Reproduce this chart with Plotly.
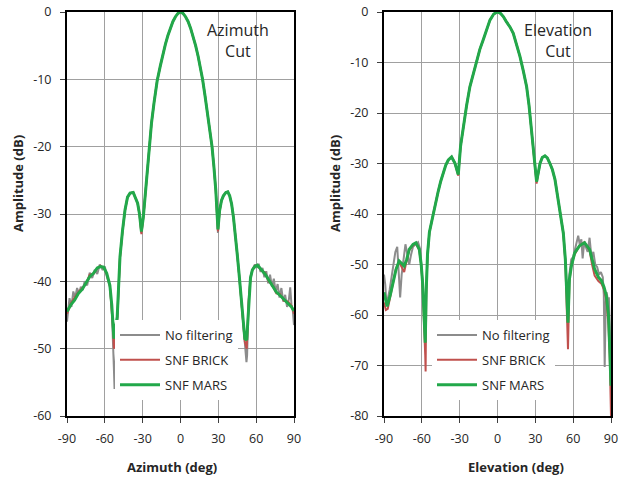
import plotly.graph_objects as go

# ---------------- Azimuth cut data ----------------
az_green_x = [-90, -87, -84, -81, -78, -75, -72, -69, -66, -63.5, -61, -58.5, -56, -54.5, -53.5, -52.8,
              -50.2, -49, -48, -46, -44, -42, -40, -37.5, -35.5, -34, -32.5, -31, -29.5, -28, -26.5, -25,
              -23, -21, -18.5, -16, -14, -12, -10, -8, -6, -4, -2, 0,
              2, 4, 6, 8, 10, 12, 14, 16, 17.5, 19.5, 21.5, 23.5, 25, 26.5, 28, 29.7,
              31, 32.5, 34, 36, 37.5, 39, 40.5, 42, 43.5, 45, 46.5, 48, 49.5, 51, 52.5,
              54, 55.5, 57, 59, 61, 64, 67, 70, 73, 76, 79, 82, 85, 88, 90]
az_green_y = [-44.5, -43.5, -42.8, -41.8, -41.2, -40.3, -39.3, -38.8, -38.0, -37.8, -37.9, -38.8, -40.6, -43.5, -46.5, -48.5,
              -45.3, -40.5, -36.4, -32.5, -29.4, -27.5, -26.9, -26.8, -27.6, -28.4, -30.0, -32.6, -30.5, -27.0, -23.5, -20.0,
              -16.5, -13.5, -10.2, -8.0, -6.3, -4.8, -3.5, -2.4, -1.4, -0.7, -0.2, 0.0,
              -0.2, -0.7, -1.4, -2.4, -3.6, -5.0, -6.6, -8.4, -10.0, -12.5, -15.0, -17.5, -20.0, -23.0, -26.5, -32.3,
              -29.5, -28.0, -27.3, -26.8, -26.7, -27.3, -28.5, -30.5, -33.0, -36.0, -39.0, -42.5, -46.0, -48.5, -48.7,
              -43.0, -39.5, -38.3, -37.8, -37.6, -38.2, -38.9, -39.8, -40.8, -41.6, -42.1, -42.7, -43.2, -43.8, -44.4]

az_red_x = [-90, -87, -84, -81, -78, -75, -72, -69, -66, -63.5, -61, -58.5, -56, -54.5, -53.5, -52.8,
            -50.2, -49, -48, -46, -44, -42, -40, -37.5, -35.5, -34, -32.5, -31, -29.5, -28, -26.5, -25,
            -23, -21, -18.5, -16, -14, -12, -10, -8, -6, -4, -2, 0,
            2, 4, 6, 8, 10, 12, 14, 16, 17.5, 19.5, 21.5, 23.5, 25, 26.5, 28, 29.7,
            31, 32.5, 34, 36, 37.5, 39, 40.5, 42, 43.5, 45, 46.5, 48, 49.5, 51, 52.5,
            54, 55.5, 57, 59, 61, 64, 67, 70, 73, 76, 79, 82, 85, 88, 90]
az_red_y = [-44.8, -43.3, -42.4, -41.6, -41.0, -40.4, -39.0, -38.9, -38.1, -37.7, -38.0, -38.9, -40.7, -43.8, -47.0, -50.0,
            -45.5, -40.6, -36.5, -32.6, -29.5, -27.5, -26.9, -26.8, -27.6, -28.4, -30.1, -33.0, -30.6, -27.1, -23.6, -20.1,
            -16.5, -13.5, -10.2, -8.0, -6.3, -4.8, -3.5, -2.4, -1.4, -0.7, -0.2, 0.0,
            -0.2, -0.7, -1.4, -2.4, -3.6, -5.0, -6.6, -8.4, -10.0, -12.5, -15.0, -17.5, -20.0, -23.0, -26.6, -32.6,
            -29.6, -28.0, -27.3, -26.8, -26.7, -27.3, -28.5, -30.5, -33.0, -36.0, -39.1, -42.6, -46.2, -49.0, -50.0,
            -43.2, -39.6, -38.3, -37.7, -37.6, -38.4, -38.7, -40.0, -40.6, -41.8, -41.9, -42.9, -43.0, -43.6, -44.8]

az_gray_x = [-90, -89, -88, -86.5, -85, -83.5, -82, -80.5, -79, -77.5, -76, -74, -72, -70, -68, -66, -64, -62,
             -60, -58.5, -56, -54.5, -53.5, -52.8, -52.3,
             -50.2, -49, -48, -46, -44, -42, -40, -37.5, -35.5, -34, -32.5, -31, -29.5, -28, -26.5, -25,
             -23, -21, -18.5, -16, -14, -12, -10, -8, -6, -4, -2, 0,
             2, 4, 6, 8, 10, 12, 14, 16, 17.5, 19.5, 21.5, 23.5, 25, 26.5, 28, 29.7,
             31, 32.5, 34, 36, 37.5, 39, 40.5, 42, 43.5, 45, 46.5, 48, 49.5, 51, 52.3, 52.8, 53.3,
             54, 55.5, 57, 59, 60.5, 62, 63.5, 65, 66.5, 68, 69.5, 71, 72.5, 74, 75.5, 77, 78.5, 80,
             81.5, 83, 84.5, 86, 87, 88, 89, 90]
az_gray_y = [-46.0, -44.0, -42.5, -43.8, -41.5, -42.4, -41.0, -41.8, -40.8, -41.3, -40.0, -40.6, -38.7, -39.5, -38.3, -38.9, -37.5, -38.2,
             -37.8, -39.2, -40.8, -44.0, -48.0, -53.0, -56.0,
             -45.4, -40.6, -36.5, -32.5, -29.4, -27.5, -26.9, -26.8, -27.6, -28.4, -30.0, -32.8, -30.5, -27.0, -23.5, -20.0,
             -16.5, -13.5, -10.2, -8.0, -6.3, -4.8, -3.5, -2.4, -1.4, -0.7, -0.2, 0.0,
             -0.2, -0.7, -1.4, -2.4, -3.6, -5.0, -6.6, -8.4, -10.0, -12.5, -15.0, -17.5, -20.0, -23.0, -26.6, -32.8,
             -29.5, -28.0, -27.3, -26.8, -26.7, -27.3, -28.5, -30.5, -33.0, -36.0, -39.0, -42.5, -46.2, -49.5, -52.0, -51.0, -47.5,
             -42.8, -39.3, -38.3, -37.5, -38.0, -37.4, -38.6, -38.0, -39.4, -38.5, -40.3, -39.0, -40.8, -39.6, -41.6, -40.4, -42.4, -41.0,
             -43.0, -42.0, -43.8, -42.6, -40.9, -43.5, -44.2, -46.5]

# ---------------- Elevation cut data ----------------
el_green_x = [-90, -87.5, -85, -83, -80.5, -78, -76, -74, -72, -70, -67, -64.7, -62, -60.5, -59.4, -58.3, -57.3,
              -56.5, -55.5, -54, -51, -49, -47, -45, -43, -41, -39, -36.4, -33.8, -31.1,
              -29.3, -27.1, -24.5, -21.9, -19, -16.6, -14, -11.3, -8.5, -6, -3, 0,
              2.5, 4.6, 7, 10, 12.5, 15, 17.8, 20.5, 23.1, 25, 27.1, 29, 31,
              33.7, 35.5, 37.6, 39.5, 41.6, 43.5, 45.6, 47.5, 49.5, 51, 52.2, 53.8, 55.4, 55.9,
              57, 58.6, 61.2, 65, 69, 73, 77, 80, 82.4, 84.5, 86.3, 88, 89, 90]
el_green_y = [-55.5, -58.3, -56.0, -53.6, -51.0, -49.3, -49.8, -50.3, -49.0, -47.0, -46.0, -45.7, -47.0, -50.0, -53.6, -59.0, -65.5,
              -55.0, -48.0, -43.6, -40.0, -37.5, -35.5, -33.5, -31.9, -30.3, -29.3, -28.7, -29.9, -32.2,
              -26.6, -22.6, -18.5, -14.8, -12.0, -9.5, -7.4, -5.5, -3.5, -1.6, -0.4, 0.0,
              -0.3, -0.9, -1.9, -3.0, -4.2, -6.2, -8.8, -11.7, -14.8, -18.5, -24.0, -28.5, -33.6,
              -30.0, -28.8, -28.5, -28.9, -30.0, -31.2, -33.2, -36.0, -39.2, -41.5, -43.8, -49.0, -57.0, -61.5,
              -53.0, -50.3, -47.7, -46.3, -45.7, -47.0, -50.9, -52.5, -53.2, -54.5, -56.2, -60.0, -66.8, -74.0]

el_red_x = [-90, -88.5, -87, -85, -83, -80.5, -78, -76, -74, -72, -70, -67, -64.7, -62, -60.5, -59.4, -58.3, -57.3, -57.0,
            -56.5, -55.5, -54, -51, -49, -47, -45, -43, -41, -39, -36.4, -33.8, -31.1,
            -29.3, -27.1, -24.5, -21.9, -19, -16.6, -14, -11.3, -8.5, -6, -3, 0,
            2.5, 4.6, 7, 10, 12.5, 15, 17.8, 20.5, 23.1, 25, 27.1, 29, 31,
            33.7, 35.5, 37.6, 39.5, 41.6, 43.5, 45.6, 47.5, 49.5, 51, 52.2, 53.8, 55.4, 55.9,
            57, 58.6, 61.2, 65, 69, 73, 75, 77, 80, 82.4, 84.5, 86.3, 88, 89, 90]
el_red_y = [-57.5, -59.0, -58.8, -56.2, -53.4, -50.8, -49.5, -50.5, -51.5, -49.2, -47.2, -46.2, -45.8, -47.2, -50.2, -54.0, -60.0, -68.0, -71.2,
            -56.0, -48.2, -43.7, -40.0, -37.5, -35.5, -33.5, -31.9, -30.3, -29.3, -28.7, -29.9, -32.4,
            -26.6, -22.6, -18.5, -14.8, -12.0, -9.5, -7.4, -5.5, -3.5, -1.6, -0.4, 0.0,
            -0.3, -0.9, -1.9, -3.0, -4.2, -6.2, -8.8, -11.7, -14.8, -18.5, -24.0, -28.5, -34.0,
            -30.0, -28.8, -28.5, -28.9, -30.0, -31.2, -33.2, -36.0, -39.2, -41.5, -43.8, -49.5, -60.0, -66.8,
            -53.5, -50.0, -48.0, -46.3, -45.6, -47.2, -50.0, -52.2, -53.3, -53.8, -55.0, -57.0, -62.0, -68.0, -80.0]

el_gray_x = [-90, -89, -88, -87, -85.5, -84, -82.5, -81, -79.5, -78.5, -77.2, -76, -74.5, -73, -71.5, -70, -68.5, -67, -65, -63,
             -61.5, -60.5, -59.4, -58.3, -57.3, -56.5, -55.5, -54, -51, -49, -47, -45, -43, -41, -39, -36.4, -33.8, -31.1,
             -29.3, -27.1, -24.5, -21.9, -19, -16.6, -14, -11.3, -8.5, -6, -3, 0,
             2.5, 4.6, 7, 10, 12.5, 15, 17.8, 20.5, 23.1, 25, 27.1, 29, 31,
             33.7, 35.5, 37.6, 39.5, 41.6, 43.5, 45.6, 47.5, 49.5, 51, 52.2, 53.8, 55.4, 55.9,
             57, 58.5, 60, 61.5, 62.8, 64, 65.2, 66.5, 67.5, 68.8, 70, 71.5, 73, 74.5, 76, 77.5, 79, 80.5, 82,
             83.5, 84.3, 85, 85.8, 86.5, 87.5, 88.3, 89, 90]
el_gray_y = [-52.0, -54.0, -58.0, -57.0, -55.0, -52.5, -50.0, -47.5, -46.5, -50.0, -56.5, -52.0, -49.0, -46.0, -48.0, -50.0, -48.0, -46.5, -46.0, -45.6,
             -46.8, -49.5, -53.5, -58.5, -65.0, -55.0, -48.0, -43.6, -40.0, -37.5, -35.5, -33.5, -31.9, -30.3, -29.3, -28.7, -29.9, -32.2,
             -26.6, -22.6, -18.5, -14.8, -12.0, -9.5, -7.4, -5.5, -3.5, -1.6, -0.4, 0.0,
             -0.3, -0.9, -1.9, -3.0, -4.2, -6.2, -8.8, -11.7, -14.8, -18.5, -24.0, -28.5, -33.6,
             -30.0, -28.8, -28.5, -28.9, -30.0, -31.2, -33.2, -36.0, -39.2, -41.5, -43.8, -49.0, -57.5, -60.0,
             -52.0, -49.0, -48.5, -47.0, -45.5, -44.3, -46.0, -45.0, -48.8, -45.5, -46.5, -47.5, -44.7, -48.5, -47.5, -50.0, -50.5, -52.0, -51.5,
             -52.5, -56.0, -70.3, -58.0, -55.5, -57.0, -56.5, -62.0, -72.0]

series_names = ["No filtering", "SNF BRICK", "SNF MARS"]
series_colors = ["#8c8c8c", "#c0504d", "#22a84a"]
series_widths = [2, 2, 3]

x_tick_vals = [-90, -60, -30, 0, 30, 60, 90]
x_tick_text = ["-90", "-60", "-30", "0", "30", "60", "90"]
az_y_tick_vals = [-60, -50, -40, -30, -20, -10, 0]
az_y_tick_text = ["-60", "-50", "-40", "-30", "-20", "-10", "0"]
el_y_tick_vals = [-80, -70, -60, -50, -40, -30, -20, -10, 0]
el_y_tick_text = ["-80", "-70", "-60", "-50", "-40", "-30", "-20", "-10", "0"]

W, H = 634, 479
FONT = "'Open Sans', 'Liberation Sans', Arial, sans-serif"


def px(x):
    return x / W


def py(y):
    return 1 - y / H


fig = go.Figure()

az_sets = [(az_gray_x, az_gray_y), (az_red_x, az_red_y), (az_green_x, az_green_y)]
el_sets = [(el_gray_x, el_gray_y), (el_red_x, el_red_y), (el_green_x, el_green_y)]

for i, (xs, ys) in enumerate(az_sets):
    fig.add_trace(go.Scatter(x=xs, y=ys, mode="lines", name=series_names[i],
                             line=dict(color=series_colors[i], width=series_widths[i]),
                             xaxis="x", yaxis="y", legend="legend", legendgroup="a%d" % i))
for i, (xs, ys) in enumerate(el_sets):
    fig.add_trace(go.Scatter(x=xs, y=ys, mode="lines", name=series_names[i],
                             line=dict(color=series_colors[i], width=series_widths[i]),
                             xaxis="x2", yaxis="y2", legend="legend2", legendgroup="e%d" % i))

axis_common = dict(
    showgrid=True, gridcolor="#a0a0a0", gridwidth=1,
    showline=True, linecolor="#000000", linewidth=2, mirror=True,
    ticks="outside", ticklen=5, tickcolor="#404040", tickwidth=1,
    tickfont=dict(family=FONT, size=12.5, color="#262626"),
    zeroline=False, fixedrange=True, automargin=False,
)

fig.update_layout(
    width=W, height=H,
    margin=dict(l=0, r=0, t=0, b=0),
    paper_bgcolor="white", plot_bgcolor="white",
    font=dict(family=FONT, color="#262626"),
    xaxis=dict(domain=[px(67), px(294)], anchor="y", range=[-90, 90],
               tickvals=x_tick_vals, ticktext=x_tick_text, ticklabelstandoff=5, **axis_common),
    yaxis=dict(domain=[py(416), py(12)], anchor="x", range=[-60, 0],
               tickvals=az_y_tick_vals, ticktext=az_y_tick_text, ticklabelstandoff=6, **axis_common),
    xaxis2=dict(domain=[px(384), px(611)], anchor="y2", range=[-90, 90],
                tickvals=x_tick_vals, ticktext=x_tick_text, ticklabelstandoff=5, **axis_common),
    yaxis2=dict(domain=[py(416), py(12)], anchor="x2", range=[-80, 0],
                tickvals=el_y_tick_vals, ticktext=el_y_tick_text, ticklabelstandoff=6, **axis_common),
    legend=dict(x=px(115), y=py(320), xanchor="left", yanchor="top",
                bgcolor="white", borderwidth=0, tracegroupgap=5, itemwidth=40,
                font=dict(family=FONT, size=13, color="#262626")),
    legend2=dict(x=px(432), y=py(320), xanchor="left", yanchor="top",
                 bgcolor="white", borderwidth=0, tracegroupgap=5, itemwidth=40,
                 font=dict(family=FONT, size=13, color="#262626")),
    showlegend=True,
)

annos = [
    dict(text="Azimuth<br>Cut", x=px(238), y=py(41), size=16),
    dict(text="Elevation<br>Cut", x=px(558), y=py(41), size=16),
    dict(text="<b>Amplitude (dB)</b>", x=px(18), y=py(184), textangle=-90, size=13),
    dict(text="<b>Amplitude (dB)</b>", x=px(335), y=py(184), textangle=-90, size=13),
    dict(text="<b>Azimuth (deg)</b>", x=px(172), y=py(467), size=13),
    dict(text="<b>Elevation (deg)</b>", x=px(516), y=py(467), size=13),
]
for a in annos:
    a = dict(a)
    size = a.pop("size")
    fig.add_annotation(xref="paper", yref="paper", showarrow=False,
                       xanchor="center", yanchor="middle",
                       font=dict(family=FONT, color="#262626", size=size), **a)

fig.write_html("out.html",
               config={"displayModeBar": False},
               post_script="document.body.style.margin='0';document.body.style.padding='0';"
                           "document.documentElement.style.overflow='hidden';")
